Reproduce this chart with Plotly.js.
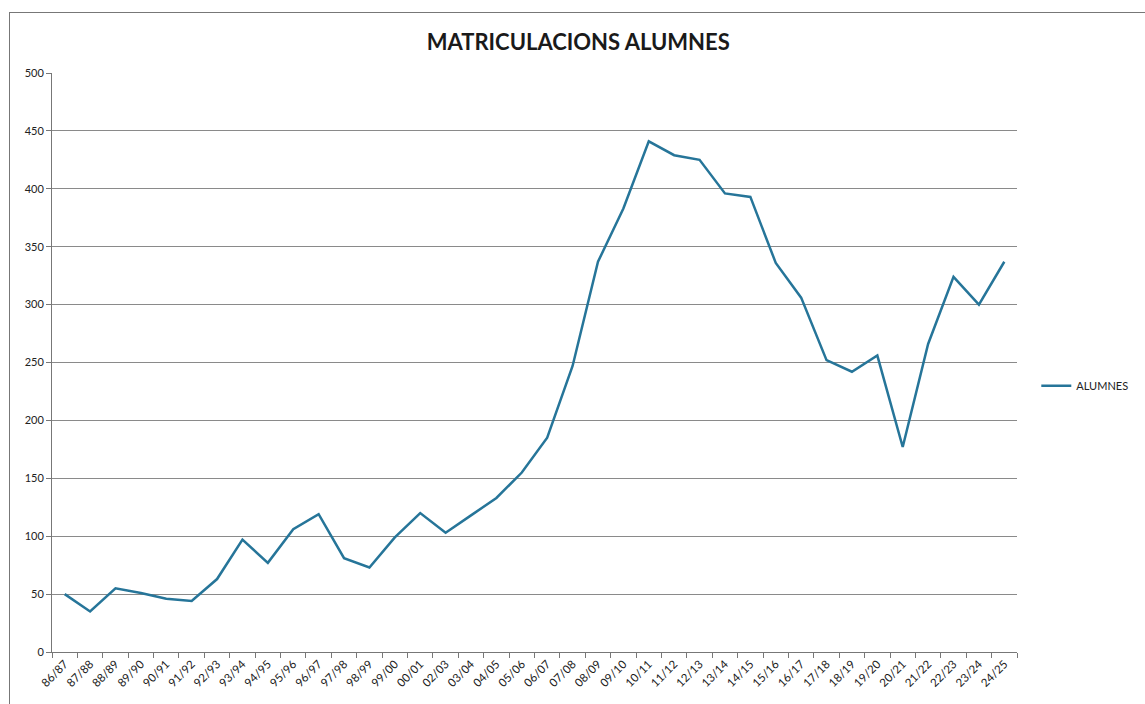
<!DOCTYPE html>
<html>
<head>
<meta charset="utf-8">
<script src="https://cdn.plot.ly/plotly-3.0.1.min.js"></script>
<style>
  html, body { margin: 0; padding: 0; background: #fff; overflow: hidden; }
  #frame { position: absolute; left: 9px; top: 12px; width: 1136px; height: 692px;
           border-left: 1px solid #777; border-top: 1px solid #777; }
  #chart { position: absolute; left: 0; top: 0; width: 1145px; height: 704px; }
</style>
</head>
<body>
<div id="frame"></div>
<div id="chart"></div>
<script>
// cursos acadèmics (no hi ha 01/02 a l'original)
var cursos = ['86/87','87/88','88/89','89/90','90/91','91/92','92/93','93/94','94/95','95/96',
  '96/97','97/98','98/99','99/00','00/01','02/03','03/04','04/05','05/06','06/07',
  '07/08','08/09','09/10','10/11','11/12','12/13','13/14','14/15','15/16','16/17',
  '17/18','18/19','19/20','20/21','21/22','22/23','23/24','24/25'];

var alumnes = [50, 35, 55, 51, 46, 44, 63, 97, 77, 106,
  119, 81, 73, 99, 120, 103, 118, 133, 155, 185,
  247, 337, 383, 441, 429, 425, 396, 393, 336, 306,
  252, 242, 256, 177, 266, 324, 300, 337];

var trace = {
  x: cursos,
  y: alumnes,
  name: 'ALUMNES',
  type: 'scatter',
  mode: 'lines',
  line: { color: '#267599', width: 2.5 }
};

var layout = {
  width: 1145,
  height: 704,
  margin: { l: 52, r: 125, t: 73, b: 52 },
  paper_bgcolor: 'rgba(0,0,0,0)',
  plot_bgcolor: 'rgba(0,0,0,0)',
  font: { family: 'Lato, "Open Sans", sans-serif', size: 11, color: '#222' },
  title: {
    text: '<b>MATRICULACIONS ALUMNES</b>',
    font: { size: 22, color: '#1a1a1a' },
    x: 0.505, xanchor: 'center',
    y: 0.94, yanchor: 'middle'
  },
  xaxis: {
    type: 'category',
    range: [-0.5, cursos.length - 0.5],
    tickangle: -45,
    tickson: 'boundaries',
    ticks: 'outside',
    ticklen: 5,
    tickcolor: '#777',
    showline: true,
    linecolor: '#777',
    linewidth: 1,
    showgrid: false,
    tickfont: { size: 11.5, color: '#1a1a1a' }
  },
  yaxis: {
    range: [0, 500],
    dtick: 50,
    ticks: 'outside',
    ticklen: 5,
    tickcolor: '#777',
    showline: true,
    linecolor: '#777',
    linewidth: 1,
    gridcolor: '#8a8a8a',
    gridwidth: 1,
    zeroline: false,
    tickfont: { size: 11, color: '#222' }
  },
  showlegend: true,
  legend: {
    x: 1.02, xanchor: 'left',
    y: 0.46, yanchor: 'middle',
    itemwidth: 30,
    font: { size: 11, color: '#222' },
    bgcolor: 'rgba(0,0,0,0)'
  }
};

Plotly.newPlot('chart', [trace], layout, { displayModeBar: false, staticPlot: true });
</script>
</body>
</html>
